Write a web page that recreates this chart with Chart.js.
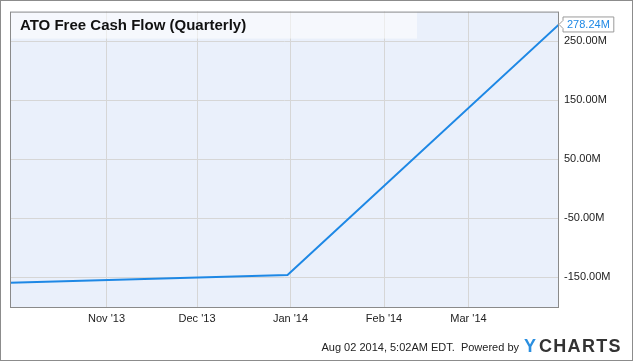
<!DOCTYPE html>
<html lang="en">
<head>
<meta charset="UTF-8">
<title>ATO Free Cash Flow (Quarterly)</title>
<script src="https://cdn.jsdelivr.net/npm/chart.js"></script>
<style>
  html, body { margin: 0; padding: 0; background: #fff; }
  canvas { display: block; }
</style>
</head>
<body>
<canvas id="fcfChart" width="635" height="362"></canvas>
<script>
// quarter end dates and free cash flow in millions
const quarterDates = ['2013-09-30', '2013-12-31', '2014-03-31'];
const fcfValues = [-158.8, -146.0, 278.24];

// axis ticks
const monthTicks = ['2013-11-01', '2013-12-01', '2014-01-01', '2014-02-01', '2014-03-01'];
const monthLabels = ["Nov '13", "Dec '13", "Jan '14", "Feb '14", "Mar '14"];
const yTicks = [-150, -50, 50, 150, 250];

const FONT = '"Liberation Sans", Arial, Helvetica, sans-serif';
const toMs = s => { const p = s.split('-'); return Date.UTC(+p[0], +p[1] - 1, +p[2]); };
const points = quarterDates.map((d, i) => ({ x: toMs(d), y: fcfValues[i] }));
const tickMs = monthTicks.map(toMs);

const chartDecor = {
  id: 'chartDecor',
  beforeDraw(chart) {
    const { ctx, chartArea: a } = chart;
    ctx.save();
    ctx.fillStyle = '#eaf0fb';
    ctx.fillRect(a.left, a.top, a.right - a.left, a.bottom - a.top);
    ctx.restore();
  },
  beforeDatasetsDraw(chart) {
    const { ctx, chartArea: a } = chart;
    ctx.save();
    // title band
    ctx.fillStyle = 'rgba(255,255,255,0.55)';
    ctx.fillRect(a.left, a.top, 407, 27);
    ctx.fillStyle = '#111';
    ctx.font = 'bold 15px ' + FONT;
    ctx.textBaseline = 'middle';
    ctx.fillText('ATO Free Cash Flow (Quarterly)', a.left + 10, a.top + 14.5);
    ctx.restore();
  },
  afterDraw(chart) {
    const { ctx, chartArea: a } = chart;
    const xs = chart.scales.x, ys = chart.scales.y;
    ctx.save();
    // plot frame
    ctx.strokeStyle = '#8a8a8a';
    ctx.lineWidth = 1;
    ctx.strokeRect(a.left + 0.5, a.top + 0.5, a.right - a.left - 1, a.bottom - a.top);
    // outer frame
    ctx.strokeStyle = '#8c8c8c';
    ctx.strokeRect(0.5, 0.5, 632, 360);

    // last value flag
    const last = points[points.length - 1];
    const px = xs.getPixelForValue(last.x), py = ys.getPixelForValue(last.y);
    const label = last.y.toFixed(2) + 'M';
    ctx.font = '11px ' + FONT;
    const w = ctx.measureText(label).width + 8;
    const top = py - 7.5, bot = py + 7.5, lx = px + 4;
    ctx.beginPath();
    ctx.moveTo(px, py);
    ctx.lineTo(lx, py - 4);
    ctx.lineTo(lx, top);
    ctx.lineTo(lx + w, top);
    ctx.lineTo(lx + w, bot);
    ctx.lineTo(lx, bot);
    ctx.lineTo(lx, py + 4);
    ctx.closePath();
    ctx.fillStyle = '#fff';
    ctx.fill();
    ctx.strokeStyle = '#9a9a9a';
    ctx.stroke();
    ctx.fillStyle = '#1e88e5';
    ctx.textBaseline = 'middle';
    ctx.fillText(label, lx + 4, py + 0.5);

    // footer
    ctx.fillStyle = '#222';
    ctx.font = '11px ' + FONT;
    ctx.textAlign = 'right';
    ctx.fillText('Aug 02 2014, 5:02AM EDT.  Powered by', 519, 348);
    ctx.textAlign = 'left';
    ctx.font = 'bold 18px ' + FONT;
    ctx.letterSpacing = '1.3px';
    ctx.fillStyle = '#2a8fe0';
    ctx.fillText('Y', 524, 347);
    ctx.fillStyle = '#333';
    ctx.fillText('CHARTS', 539, 347);
    ctx.restore();
  }
};

new Chart(document.getElementById('fcfChart'), {
  type: 'line',
  data: {
    datasets: [{
      data: points,
      borderColor: '#1e88e5',
      borderWidth: 2,
      pointRadius: 0,
      tension: 0,
      fill: false
    }]
  },
  options: {
    responsive: false,
    animation: false,
    devicePixelRatio: 1,
    layout: { padding: { left: 10, top: 10, right: 0, bottom: 0 } },
    plugins: { legend: { display: false }, tooltip: { enabled: false } },
    scales: {
      x: {
        type: 'linear',
        min: points[0].x,
        max: points[points.length - 1].x,
        afterBuildTicks: s => { s.ticks = tickMs.map(v => ({ value: v })); },
        afterFit: s => { s.height = 55; },
        grid: { color: '#d6d6d6', drawTicks: false },
        border: { display: false },
        ticks: {
          padding: 5,
          color: '#222',
          font: { family: FONT, size: 11 },
          maxRotation: 0,
          callback: (v, i) => monthLabels[i]
        }
      },
      y: {
        position: 'right',
        min: -200,
        max: 300,
        afterBuildTicks: s => { s.ticks = yTicks.map(v => ({ value: v })); },
        afterFit: s => { s.width = 76; },
        grid: { color: '#d6d6d6', drawTicks: false },
        border: { display: false },
        ticks: {
          padding: 5,
          color: '#222',
          font: { family: FONT, size: 11 },
          callback: v => v.toFixed(2) + 'M'
        }
      }
    }
  },
  plugins: [chartDecor]
});
</script>
</body>
</html>
